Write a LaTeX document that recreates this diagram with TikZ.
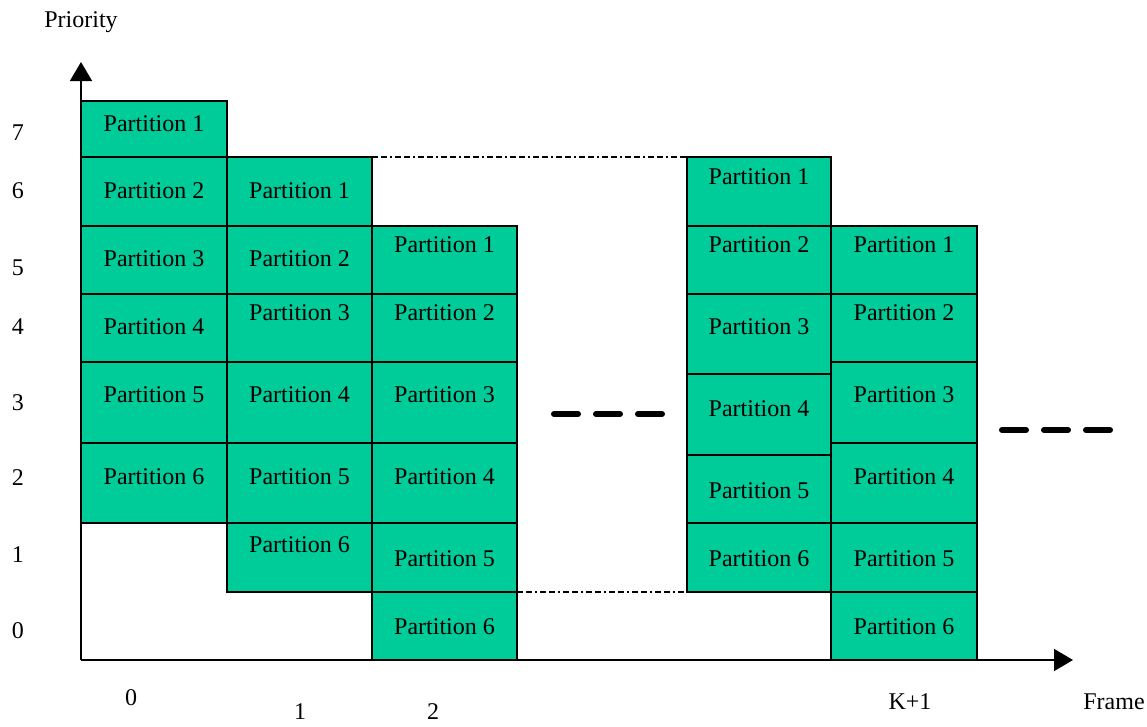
\documentclass[tikz,border=0pt]{standalone}
\usepackage{fontspec}
\setmainfont{Liberation Serif}
\usetikzlibrary{arrows.meta}
\definecolor{partgreen}{HTML}{00CC99}
\tikzset{
  cellbox/.style={draw=black, line width=2pt, fill=partgreen, inner sep=0pt, outer sep=0pt},
  celltext/.style={inner sep=0pt, font=\fontsize{24}{27}\selectfont},
  lbl/.style={inner sep=0pt, font=\fontsize{24}{27}\selectfont},
  axis/.style={line width=1.6pt, -{Triangle[length=19pt,width=22pt]}},
  guide/.style={line width=1.8pt, dash pattern=on 6pt off 3pt on 6pt off 3pt on 2pt off 3pt},
  bigdash/.style={line width=6pt, line cap=round, dash pattern=on 24pt off 18pt}
}
% #1 name, #2 x1, #3 y1, #4 x2, #5 y2, #6 text y, #7 text
\newcommand{\pcell}[7]{%
  \node[cellbox, minimum width={(#4-#2)*1pt}, minimum height={(#5-#3)*1pt}] (#1) at ({(#2+#4)/2},{(#3+#5)/2}) {};
  \node[celltext] (t#1) at ({(#2+#4)/2},#6) {#7};
}
\begin{document}
\begin{tikzpicture}[x=1pt,y=-1pt]
\useasboundingbox (0,0) rectangle (1147,726);
% axes
\coordinate (O) at (81,660);
\coordinate (ytip) at (81,62);
\coordinate (xtip) at (1073,660);
\draw[axis] (O) -- (ytip);
\draw[axis] (O) -- (xtip);
% column 0
\pcell{a1}{81}{101}{227}{157}{124}{Partition 1}
\pcell{a2}{81}{157}{227}{226}{191}{Partition 2}
\pcell{a3}{81}{226}{227}{294}{259}{Partition 3}
\pcell{a4}{81}{294}{227}{362}{327}{Partition 4}
\pcell{a5}{81}{362}{227}{443}{395}{Partition 5}
\pcell{a6}{81}{443}{227}{523}{477}{Partition 6}
% column 1
\pcell{b1}{227}{157}{372}{226}{191}{Partition 1}
\pcell{b2}{227}{226}{372}{294}{259}{Partition 2}
\pcell{b3}{227}{294}{372}{362}{313}{Partition 3}
\pcell{b4}{227}{362}{372}{443}{395}{Partition 4}
\pcell{b5}{227}{443}{372}{523}{477}{Partition 5}
\pcell{b6}{227}{523}{372}{592}{545}{Partition 6}
% column 2
\pcell{c1}{372}{226}{517}{294}{245}{Partition 1}
\pcell{c2}{372}{294}{517}{362}{313}{Partition 2}
\pcell{c3}{372}{362}{517}{443}{395}{Partition 3}
\pcell{c4}{372}{443}{517}{523}{477}{Partition 4}
\pcell{c5}{372}{523}{517}{592}{559}{Partition 5}
\pcell{c6}{372}{592}{517}{660}{627}{Partition 6}
% column K
\pcell{k1}{687}{157}{831}{226}{177}{Partition 1}
\pcell{k2}{687}{226}{831}{294}{245}{Partition 2}
\pcell{k3}{687}{294}{831}{374}{327}{Partition 3}
\pcell{k4}{687}{374}{831}{455}{409}{Partition 4}
\pcell{k5}{687}{455}{831}{523}{491}{Partition 5}
\pcell{k6}{687}{523}{831}{592}{559}{Partition 6}
% column K+1
\pcell{m1}{831}{226}{977}{294}{245}{Partition 1}
\pcell{m2}{831}{294}{977}{362}{313}{Partition 2}
\pcell{m3}{831}{362}{977}{443}{395}{Partition 3}
\pcell{m4}{831}{443}{977}{523}{477}{Partition 4}
\pcell{m5}{831}{523}{977}{592}{559}{Partition 5}
\pcell{m6}{831}{592}{977}{660}{627}{Partition 6}
% guide lines
\draw[guide] (b1.north east) -- (k1.north west);
\draw[guide] (c5.south east) -- (k6.south west);
% big dashes
\draw[bigdash] (554,414) -- (662,414);
\draw[bigdash] (1002,430) -- (1110,430);
% labels
\node[lbl] (prio) at (81,22) {Priority};
\node[lbl] (y7) at (18,133) {7};
\node[lbl] (y6) at (18,191) {6};
\node[lbl] (y5) at (18,268) {5};
\node[lbl] (y4) at (18,327) {4};
\node[lbl] (y3) at (18,403) {3};
\node[lbl] (y2) at (18,478) {2};
\node[lbl] (y1) at (18,555) {1};
\node[lbl] (y0) at (18,631) {0};
\node[lbl] (x0) at (131,698) {0};
\node[lbl] (x1) at (300,712) {1};
\node[lbl] (x2) at (433,712) {2};
\node[lbl] (xk) at (910,702) {K+1};
\node[lbl] (xf) at (1114,702) {Frame};
\end{tikzpicture}
\end{document}
